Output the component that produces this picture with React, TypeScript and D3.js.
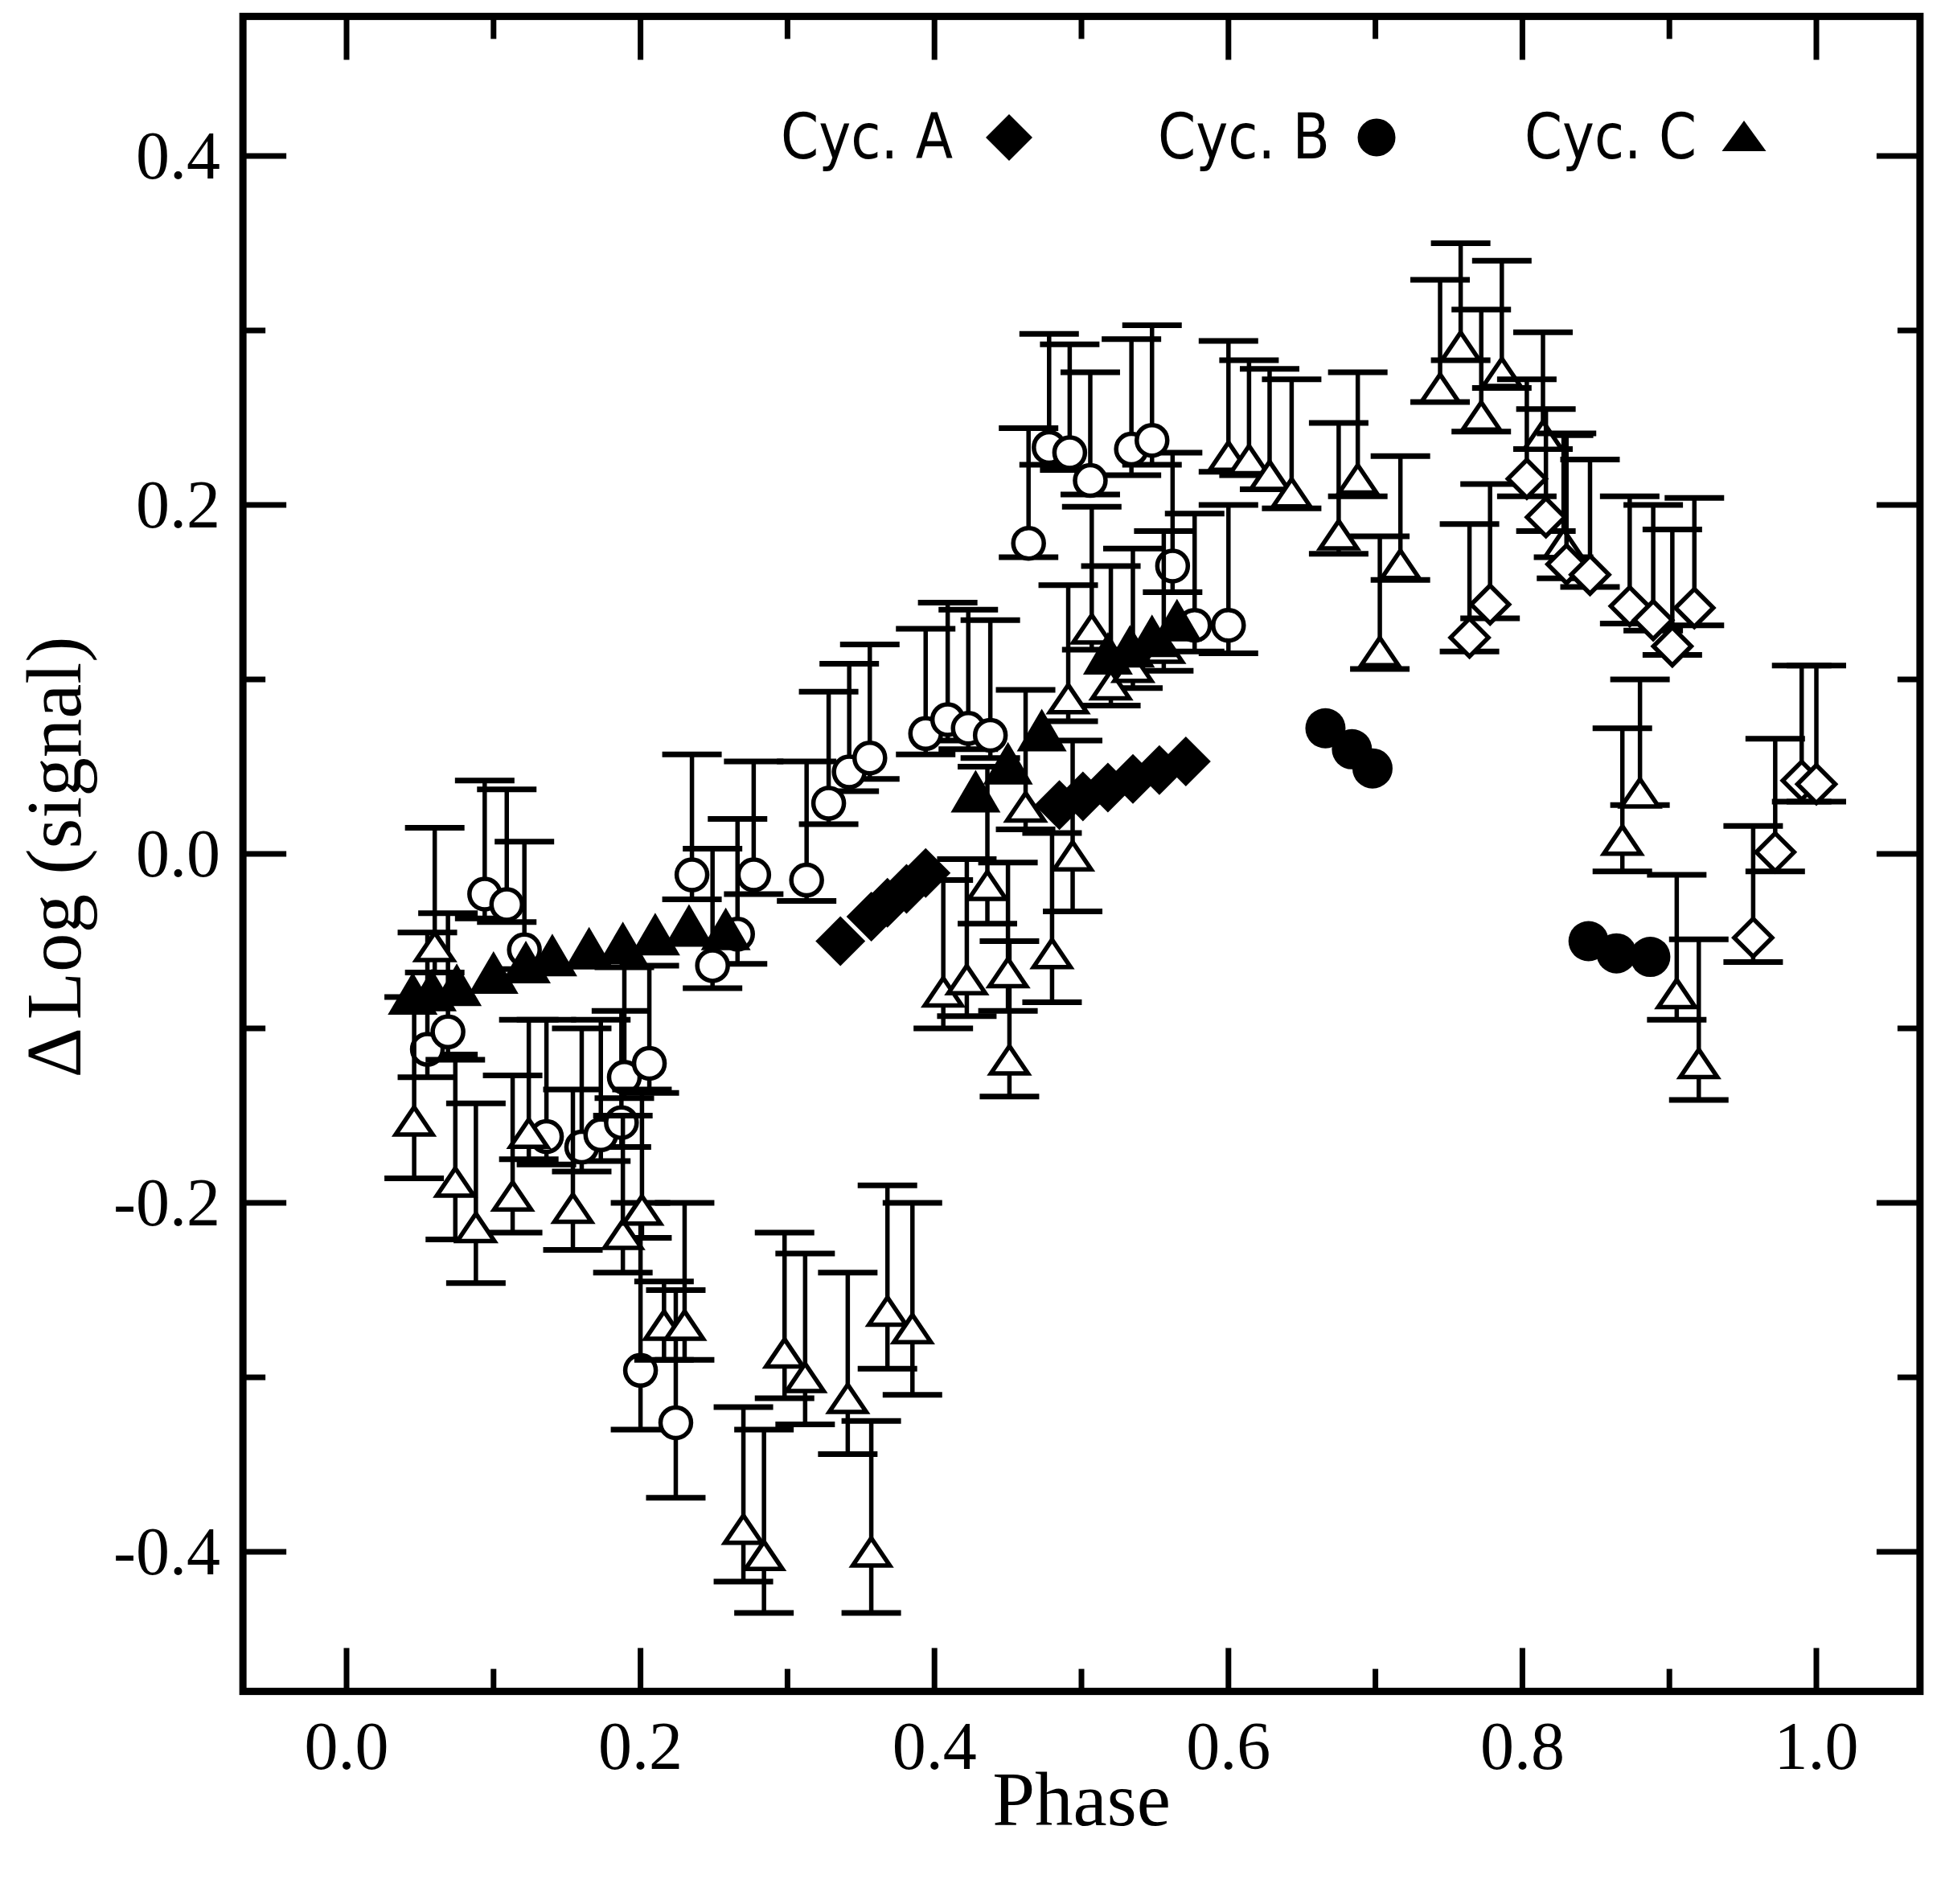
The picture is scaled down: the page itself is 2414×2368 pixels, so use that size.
import React, { useRef, useEffect } from 'react';
import * as d3 from 'd3';

// [phase, value, upper cap, lower cap]
type ErrPoint = [number, number, number, number];
type Point = [number, number];

const openCircles: ErrPoint[] = [
  [0.055, -0.112, -0.045, -0.128], [0.069, -0.102, -0.034, -0.115],
  [0.094, -0.023, 0.042, -0.037], [0.109, -0.029, 0.037, -0.039],
  [0.121, -0.055, 0.007, -0.066], [0.136, -0.162, -0.095, -0.178],
  [0.160, -0.168, -0.100, -0.182], [0.173, -0.161, -0.095, -0.176],
  [0.187, -0.154, -0.090, -0.168], [0.189, -0.128, -0.065, -0.140],
  [0.206, -0.120, -0.064, -0.137], [0.200, -0.296, -0.200, -0.330],
  [0.224, -0.326, -0.250, -0.369], [0.235, -0.012, 0.057, -0.026],
  [0.249, -0.064, 0.003, -0.077], [0.266, -0.046, 0.020, -0.063],
  [0.277, -0.012, 0.053, -0.023], [0.313, -0.015, 0.053, -0.027],
  [0.328, 0.029, 0.093, 0.017], [0.342, 0.047, 0.109, 0.036],
  [0.356, 0.055, 0.120, 0.043], [0.394, 0.069, 0.129, 0.057],
  [0.409, 0.077, 0.144, 0.065], [0.423, 0.072, 0.140, 0.060],
  [0.438, 0.068, 0.134, 0.055], [0.464, 0.178, 0.244, 0.170],
  [0.478, 0.233, 0.298, 0.223], [0.492, 0.230, 0.292, 0.220],
  [0.506, 0.214, 0.276, 0.206], [0.534, 0.232, 0.295, 0.217],
  [0.548, 0.237, 0.303, 0.223], [0.562, 0.165, 0.230, 0.150],
  [0.577, 0.131, 0.195, 0.116], [0.600, 0.131, 0.200, 0.115],
];

const openTriangles: ErrPoint[] = [
  [0.046, -0.153, -0.082, -0.186], [0.060, -0.053, 0.015, -0.068],
  [0.074, -0.188, -0.118, -0.221], [0.088, -0.214, -0.143, -0.246],
  [0.113, -0.196, -0.127, -0.217], [0.124, -0.160, -0.095, -0.175],
  [0.154, -0.203, -0.135, -0.227], [0.188, -0.218, -0.150, -0.240],
  [0.201, -0.204, -0.135, -0.220], [0.216, -0.270, -0.245, -0.290],
  [0.230, -0.270, -0.200, -0.290], [0.270, -0.387, -0.317, -0.417],
  [0.284, -0.402, -0.330, -0.435], [0.298, -0.286, -0.217, -0.312],
  [0.312, -0.300, -0.229, -0.327], [0.341, -0.312, -0.240, -0.344],
  [0.357, -0.400, -0.325, -0.435], [0.368, -0.262, -0.190, -0.295],
  [0.385, -0.272, -0.200, -0.310], [0.406, -0.079, -0.015, -0.100],
  [0.422, -0.072, -0.003, -0.093], [0.436, -0.018, 0.050, -0.040],
  [0.450, -0.068, -0.005, -0.090], [0.451, -0.118, -0.050, -0.139],
  [0.462, 0.027, 0.094, 0.014], [0.480, -0.057, 0.012, -0.085],
  [0.491, 0.089, 0.154, 0.076], [0.494, -0.001, 0.065, -0.033],
  [0.507, 0.129, 0.199, 0.117], [0.520, 0.097, 0.165, 0.085],
  [0.535, 0.107, 0.175, 0.095], [0.556, 0.118, 0.185, 0.105],
  [0.600, 0.228, 0.294, 0.219], [0.614, 0.226, 0.283, 0.217],
  [0.628, 0.217, 0.278, 0.209], [0.643, 0.207, 0.272, 0.198],
  [0.675, 0.183, 0.247, 0.172], [0.688, 0.215, 0.276, 0.205],
  [0.703, 0.116, 0.182, 0.106], [0.717, 0.166, 0.228, 0.157],
  [0.744, 0.267, 0.329, 0.259], [0.758, 0.291, 0.350, 0.283],
  [0.772, 0.251, 0.312, 0.242], [0.786, 0.276, 0.340, 0.267],
  [0.814, 0.240, 0.299, 0.232], [0.828, 0.178, 0.240, 0.170],
  [0.868, 0.008, 0.072, -0.010], [0.880, 0.035, 0.100, 0.028],
  [0.905, -0.080, -0.012, -0.095], [0.920, -0.120, -0.049, -0.141],
];

const openDiamonds: ErrPoint[] = [
  [0.764, 0.124, 0.189, 0.116], [0.778, 0.143, 0.212, 0.135],
  [0.803, 0.215, 0.272, 0.205], [0.816, 0.193, 0.255, 0.185],
  [0.830, 0.166, 0.241, 0.158], [0.846, 0.160, 0.226, 0.153],
  [0.873, 0.142, 0.205, 0.132], [0.889, 0.134, 0.200, 0.128],
  [0.902, 0.119, 0.186, 0.114], [0.917, 0.141, 0.204, 0.131],
  [0.957, -0.048, 0.016, -0.062], [0.972, 0.001, 0.066, -0.010],
  [0.990, 0.042, 0.108, 0.030], [1.000, 0.040, 0.108, 0.030],
];

const cycA: Point[] = [
  [0.336, -0.050], [0.357, -0.036], [0.368, -0.028], [0.381, -0.020], [0.394, -0.011],
  [0.485, 0.028], [0.501, 0.033], [0.518, 0.038], [0.535, 0.043], [0.553, 0.048], [0.571, 0.053],
];

const cycB: Point[] = [
  [0.666, 0.072], [0.684, 0.060], [0.698, 0.049],
  [0.845, -0.050], [0.864, -0.057], [0.887, -0.059],
];

const cycC: Point[] = [
  [0.045, -0.080], [0.058, -0.078], [0.075, -0.075], [0.100, -0.068], [0.122, -0.062],
  [0.140, -0.058], [0.165, -0.054], [0.188, -0.051], [0.210, -0.046], [0.233, -0.041],
  [0.258, -0.043], [0.428, 0.036], [0.450, 0.052], [0.473, 0.071], [0.518, 0.115],
  [0.533, 0.119], [0.548, 0.125], [0.565, 0.134],
];

const xMajor = [0, 0.2, 0.4, 0.6, 0.8, 1.0];
const xMinor = [0.1, 0.3, 0.5, 0.7, 0.9];
const yMajor = [-0.4, -0.2, 0, 0.2, 0.4];
const yMinor = [-0.3, -0.1, 0.1, 0.3];

const legendItems = [
  { label: 'Cyc. A', shape: 'diamond' },
  { label: 'Cyc. B', shape: 'circle' },
  { label: 'Cyc. C', shape: 'triangle' },
];

const W = 2414;
const H = 2368;

const triPath = (cx: number, cy: number, hw: number, hh: number) =>
  `M${cx},${cy - hh}L${cx + hw},${cy + hh}L${cx - hw},${cy + hh}Z`;
const diaPath = (cx: number, cy: number, r: number) =>
  `M${cx},${cy - r}L${cx + r},${cy}L${cx},${cy + r}L${cx - r},${cy}Z`;
const circlePath = (r: number) => (cx: number, cy: number) => {
  const p = d3.path();
  p.moveTo(cx + r, cy);
  p.arc(cx, cy, r, 0, Math.PI * 2);
  p.closePath();
  return p.toString();
};

const App: React.FC = () => {
  const svgRef = useRef<SVGSVGElement | null>(null);

  useEffect(() => {
    if (!svgRef.current) return;
    const svg = d3.select(svgRef.current);
    svg.selectAll('*').remove();

    const x = d3.scaleLinear().domain([0, 1]).range([431, 2259]);
    const y = d3.scaleLinear().domain([0, 0.4]).range([1062, 194]);
    const left = x(-0.0705), right = x(1.0705);
    const top = y(0.48), bottom = y(-0.48);

    svg.append('rect').attr('width', W).attr('height', H).attr('fill', '#fff');

    // ticks, all four sides, pointing in
    const tk = svg.append('g').attr('stroke', '#000').attr('stroke-width', 7);
    const xTicks = [...xMajor.map(v => [v, 54]), ...xMinor.map(v => [v, 28])];
    const yTicks = [...yMajor.map(v => [v, 54]), ...yMinor.map(v => [v, 28])];
    xTicks.forEach(([v, len]) => {
      tk.append('line').attr('x1', x(v)).attr('x2', x(v)).attr('y1', bottom).attr('y2', bottom - len);
      tk.append('line').attr('x1', x(v)).attr('x2', x(v)).attr('y1', top).attr('y2', top + len);
    });
    yTicks.forEach(([v, len]) => {
      tk.append('line').attr('y1', y(v)).attr('y2', y(v)).attr('x1', left).attr('x2', left + len);
      tk.append('line').attr('y1', y(v)).attr('y2', y(v)).attr('x1', right).attr('x2', right - len);
    });

    svg.append('rect')
      .attr('x', left).attr('y', top)
      .attr('width', right - left).attr('height', bottom - top)
      .attr('fill', 'none').attr('stroke', '#000').attr('stroke-width', 9);

    const serif = 'Liberation Serif, Times New Roman, serif';
    svg.append('g').selectAll('text').data(xMajor).enter().append('text')
      .attr('x', d => x(d)).attr('y', 2200)
      .attr('text-anchor', 'middle')
      .attr('font-family', serif).attr('font-size', 84)
      .text(d => d.toFixed(1));
    svg.append('g').selectAll('text').data(yMajor).enter().append('text')
      .attr('x', 274).attr('y', d => y(d) + 28)
      .attr('text-anchor', 'end')
      .attr('font-family', serif).attr('font-size', 84)
      .text(d => d.toFixed(1));

    svg.append('text')
      .attr('x', (left + right) / 2).attr('y', 2270)
      .attr('text-anchor', 'middle')
      .attr('font-family', serif).attr('font-size', 95)
      .text('Phase');

    const yl = svg.append('text')
      .attr('transform', `translate(100,${(top + bottom) / 2 + 4}) rotate(-90)`)
      .attr('text-anchor', 'middle')
      .attr('font-family', serif).attr('font-size', 97);
    yl.append('tspan').text('Δ');
    yl.append('tspan').attr('dx', 10).text('Log (signal)');

    // open series with asymmetric error bars
    const drawErr = (data: ErrPoint[], marker: (cx: number, cy: number) => string) => {
      const g = svg.append('g');
      const bars = g.append('g').attr('stroke', '#000');
      data.forEach(([px, py, hi, lo]) => {
        const cx = x(px);
        bars.append('line').attr('x1', cx).attr('x2', cx).attr('y1', y(hi)).attr('y2', y(lo)).attr('stroke-width', 5.5);
        [hi, lo].forEach(v => {
          bars.append('line').attr('x1', cx - 37).attr('x2', cx + 37).attr('y1', y(v)).attr('y2', y(v)).attr('stroke-width', 7);
        });
      });
      g.append('g').selectAll('path').data(data).enter().append('path')
        .attr('d', d => marker(x(d[0]), y(d[1])))
        .attr('fill', '#fff').attr('stroke', '#000').attr('stroke-width', 5.5)
        .attr('stroke-linejoin', 'miter');
    };

    drawErr(openCircles, circlePath(19));
    drawErr(openTriangles, (cx, cy) => triPath(cx, cy, 23, 17));
    drawErr(openDiamonds, (cx, cy) => diaPath(cx, cy, 23.5));

    const drawFilled = (data: Point[], marker: (cx: number, cy: number) => string) => {
      svg.append('g').selectAll('path').data(data).enter().append('path')
        .attr('d', d => marker(x(d[0]), y(d[1])))
        .attr('fill', '#000');
    };
    drawFilled(cycA, (cx, cy) => diaPath(cx, cy, 31));
    drawFilled(cycB, circlePath(25));
    drawFilled(cycC, (cx, cy) => triPath(cx, cy, 31, 26.5));

    // legend
    const legX = [971, 1440, 1896];
    const markX = [1255, 1712, 2169];
    const lg = svg.append('g');
    legendItems.forEach((item, i) => {
      lg.append('text')
        .attr('x', legX[i]).attr('y', 197)
        .attr('font-family', 'DejaVu Sans, sans-serif').attr('font-size', 78)
        .attr('textLength', 214).attr('lengthAdjust', 'spacingAndGlyphs')
        .text(item.label);
      const cx = markX[i], cy = 171;
      const d = item.shape === 'diamond' ? diaPath(cx, cy, 29)
        : item.shape === 'circle' ? circlePath(23.5)(cx, cy)
        : triPath(cx, cy - 2, 27.5, 19);
      lg.append('path').attr('d', d).attr('fill', '#000');
    });
  }, []);

  return (
    <svg
      ref={svgRef}
      width={W}
      height={H}
      viewBox={`0 0 ${W} ${H}`}
      style={{ position: 'absolute', left: 0, top: 0, display: 'block' }}
    />
  );
};

export default App;
